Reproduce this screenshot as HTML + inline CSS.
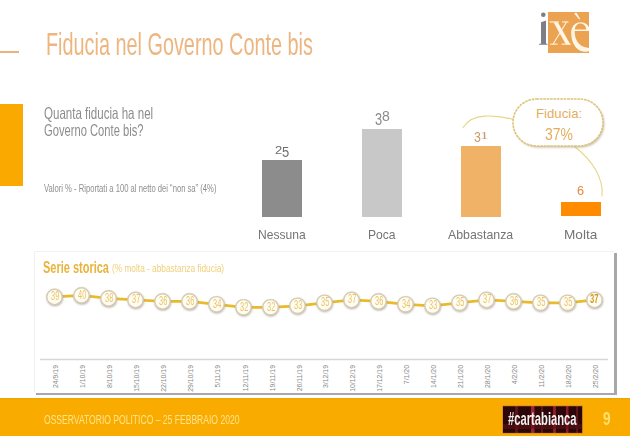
<!DOCTYPE html>
<html><head><meta charset="utf-8">
<style>
html,body{margin:0;padding:0;background:#fff;width:630px;height:436px;overflow:hidden;position:relative;font-family:"Liberation Sans",sans-serif;}
.a{position:absolute;white-space:nowrap;}
</style></head><body>
<div class="a" style="left:0px;top:50.5px;width:19px;height:2px;background:#ebb27c;"></div>
<div class="a" style="left:46.00px;top:27.71px;font-size:32px;line-height:32px;color:#edb680;font-weight:normal;transform:scale(0.62,1.0);transform-origin:0 27.09px;">Fiducia nel Governo Conte bis</div>
<div class="a" style="left:548.2px;top:12.4px;width:41px;height:41px;background:#eba352;"></div>
<svg class="a" style="left:0;top:0" width="630" height="60" viewBox="0 0 630 60">
<path fill="#7c7f87" d="M541 22.2 L546 20.4 L546 43.6 L547.6 44 L547.6 44.8 L539 44.8 L539 44 L541 43.6 Z"/>
<circle cx="543.3" cy="14.8" r="2.3" fill="#7c7f87"/>
<defs><clipPath id="lq"><rect x="548.2" y="12.4" width="41" height="41"/></clipPath></defs>
<g fill="#fff6e6" clip-path="url(#lq)">
<path d="M553.5 22.3 L557.8 22.3 L570.2 44.2 L565.8 44.2 Z"/>
<path d="M565.8 22.3 L567 22.3 L553.6 44.2 L552.4 44.2 Z"/>
<rect x="549.6" y="21.4" width="9.2" height="1.1"/>
<rect x="562.2" y="21.4" width="6.3" height="1.1"/>
<rect x="550.2" y="43.6" width="7.4" height="1.1"/>
<rect x="561.6" y="43.6" width="9.2" height="1.1"/>
<path fill-rule="evenodd" d="M571.2 33 C571.2 26.5 575 22.2 580.6 22.2 C586.2 22.2 589.6 25.8 589.8 31 L574.6 31 C574.6 40 579.2 46.2 586.2 47.6 C588.2 48 590 48 591 47.6 L591 50.5 C589 51.8 586 52.2 583 51.6 C575.5 50 571.2 42 571.2 33 Z M574.8 29.4 L586.2 29.4 C586 26.2 583.6 23.6 580.4 23.6 C577.2 23.6 575.2 26.2 574.8 29.4 Z"/>
<path d="M574.2 13.6 L576.4 12.4 L580.2 19 L579.2 19.6 Z"/>
</g>
</svg>
<div class="a" style="left:0px;top:104px;width:23px;height:82px;background:#f9a900;"></div>
<div class="a" style="left:44.00px;top:104.63px;font-size:16.5px;line-height:16.5px;color:#8d8d8d;font-weight:normal;transform:scale(0.7,1.0);transform-origin:0 13.97px;">Quanta fiducia ha nel</div>
<div class="a" style="left:44.00px;top:122.43px;font-size:16.5px;line-height:16.5px;color:#8d8d8d;font-weight:normal;transform:scale(0.678,1.0);transform-origin:0 13.97px;">Governo Conte bis?</div>
<div class="a" style="left:44.00px;top:182.77px;font-size:11.5px;line-height:11.5px;color:#8f8f8f;font-weight:normal;transform:scale(0.665,1.0);transform-origin:0 9.73px;">Valori % - Riportati a 100 al netto dei “non sa” (4%)</div>
<div class="a" style="left:262px;top:160px;width:40px;height:57px;background:#8c8c8c;"></div>
<div class="a" style="left:362px;top:129px;width:40px;height:88px;background:#c8c8c8;"></div>
<div class="a" style="left:461px;top:146px;width:40px;height:71px;background:#f0b266;"></div>
<div class="a" style="left:561px;top:202px;width:40px;height:14px;background:#ff8c00;"></div>
<div class="a" style="left:258.00px;top:229.23px;font-size:12.6px;line-height:12.6px;color:#747474;font-weight:normal;transform:scale(0.96,1.0);transform-origin:0 10.67px;">Nessuna</div>
<div class="a" style="left:367.50px;top:229.23px;font-size:12.6px;line-height:12.6px;color:#747474;font-weight:normal;transform:scale(0.96,1.0);transform-origin:0 10.67px;">Poca</div>
<div class="a" style="left:448.30px;top:229.23px;font-size:12.6px;line-height:12.6px;color:#747474;font-weight:normal;transform:scale(0.98,1.0);transform-origin:0 10.67px;">Abbastanza</div>
<div class="a" style="left:564.30px;top:229.23px;font-size:12.6px;line-height:12.6px;color:#747474;font-weight:normal;transform:scale(1.08,1.0);transform-origin:0 10.67px;">Molta</div>
<div class="a" style="left:275.02px;top:145.13px;font-size:10.714285714285715px;line-height:10.714285714285715px;color:#6e6e6e;font-weight:normal;transform:scale(1.2113475177304964,1.0);transform-origin:0 9.07px;">2</div>
<div class="a" style="left:281.72px;top:144.54px;font-size:14.714285714285731px;line-height:14.714285714285731px;color:#6e6e6e;font-weight:normal;transform:scale(0.8820491633959915,1.0);transform-origin:0 12.46px;">5</div>
<div class="a" style="left:374.53px;top:111.86px;font-size:16.000000000000004px;line-height:16.000000000000004px;color:#8a8a8a;font-weight:normal;transform:scale(0.7978723404255318,1.0);transform-origin:0 13.54px;">3</div>
<div class="a" style="left:381.57px;top:109.49px;font-size:14.428571428571422px;line-height:14.428571428571422px;color:#8a8a8a;font-weight:normal;transform:scale(0.9732462607962928,1.0);transform-origin:0 12.21px;">8</div>
<div class="a" style="left:474.24px;top:130.21px;font-size:14.285714285714286px;line-height:14.285714285714286px;color:#c89a6a;font-weight:normal;transform:scale(0.8638297872340425,1.0);transform-origin:0 12.09px;">3</div>
<div class="a" style="left:480.03px;top:130.61px;font-size:10.14705882352942px;line-height:10.14705882352942px;color:#c89a6a;font-weight:normal;font-family:'Liberation Serif',serif;transform:scale(1.7,1.0);transform-origin:0 8.59px;">1</div>
<div class="a" style="left:577.40px;top:183.60px;font-size:13px;line-height:13px;color:#e98a3a;font-weight:normal;transform:scale(0.98,1.0);transform-origin:0 11.00px;">6</div>
<svg class="a" style="left:0;top:0" width="630" height="436" viewBox="0 0 630 436">
<path d="M462.8 127.8 C467 121 474 116.5 485 116.1 C497 115.8 506 117.5 513.5 119.4" fill="none" stroke="#e6d68a" stroke-width="1.1"/>
<path d="M574 146 C592 160 604 178 602 196.5" fill="none" stroke="#e6d68a" stroke-width="1.1"/>
</svg>
<svg class="a" style="left:0;top:0" width="630" height="436" viewBox="0 0 630 436">
<defs><filter id="sh" x="-20%" y="-20%" width="140%" height="140%"><feGaussianBlur stdDeviation="1"/></filter></defs>
<rect x="514.3" y="100.6" width="90" height="47" rx="23.5" fill="#a89878" opacity="0.6" filter="url(#sh)"/>
<rect x="513" y="99" width="90" height="47" rx="23.5" fill="#fff" stroke="#dcc47a" stroke-width="1.6" stroke-dasharray="2.6 0.8"/>
</svg>
<div class="a" style="left:536.00px;top:106.73px;font-size:13.2px;line-height:13.2px;color:#e4ad5e;font-weight:normal;transform-origin:0 11.17px;">Fiducia:</div>
<div class="a" style="left:545.00px;top:125.91px;font-size:17px;line-height:17px;color:#e4ad5e;font-weight:normal;transform:scale(0.82,1.0);transform-origin:0 14.39px;">37%</div>
<div class="a" style="left:614px;top:253px;width:2.6px;height:142px;background:#a8a8a8;"></div>
<div class="a" style="left:36px;top:392.6px;width:580.6px;height:2.2px;background:#a8a8a8;"></div>
<div class="a" style="left:34px;top:251px;width:580px;height:141px;background:#fff;border-left:1px solid #f0f0f0;border-top:1px solid #f2f2f2;box-sizing:border-box"></div>
<div class="a" style="left:43.00px;top:258.62px;font-size:16.4px;line-height:16.4px;color:#e8b43c;font-weight:bold;transform:scale(0.67,1.0);transform-origin:0 13.88px;">Serie storica</div>
<div class="a" style="left:111.50px;top:264.34px;font-size:10px;line-height:10px;color:#efd07a;font-weight:normal;transform:scale(0.83,1.0);transform-origin:0 8.46px;">(% molta - abbastanza fiducia)</div>
<svg class="a" style="left:0;top:0" width="630" height="436" viewBox="0 0 630 436">
<defs><filter id="cs" x="-50%" y="-50%" width="200%" height="200%"><feGaussianBlur stdDeviation="0.8"/></filter></defs>
<polyline points="54.5,296.9 81.5,295.4 108.5,298.4 135.5,299.9 162.5,301.4 189.5,301.4 216.5,304.3 243.5,307.3 270.5,307.3 297.5,305.8 324.5,302.8 351.5,299.9 378.5,301.4 405.5,304.3 432.5,305.8 459.5,302.8 486.5,299.9 513.5,301.4 540.5,302.8 567.5,302.8 594.5,299.9" fill="none" stroke="#e9bb2c" stroke-width="2.8" stroke-linejoin="round"/>
<circle cx="54.9" cy="297.9" r="8.1" fill="#9a8f7c" opacity="0.75" filter="url(#cs)"/>
<circle cx="54.5" cy="296.9" r="7.7" fill="#fffdf2" stroke="#d6ccb6" stroke-width="1.4"/>
<circle cx="81.9" cy="296.4" r="8.1" fill="#9a8f7c" opacity="0.75" filter="url(#cs)"/>
<circle cx="81.5" cy="295.4" r="7.7" fill="#fffdf2" stroke="#d6ccb6" stroke-width="1.4"/>
<circle cx="108.9" cy="299.4" r="8.1" fill="#9a8f7c" opacity="0.75" filter="url(#cs)"/>
<circle cx="108.5" cy="298.4" r="7.7" fill="#fffdf2" stroke="#d6ccb6" stroke-width="1.4"/>
<circle cx="135.9" cy="300.9" r="8.1" fill="#9a8f7c" opacity="0.75" filter="url(#cs)"/>
<circle cx="135.5" cy="299.9" r="7.7" fill="#fffdf2" stroke="#d6ccb6" stroke-width="1.4"/>
<circle cx="162.9" cy="302.4" r="8.1" fill="#9a8f7c" opacity="0.75" filter="url(#cs)"/>
<circle cx="162.5" cy="301.4" r="7.7" fill="#fffdf2" stroke="#d6ccb6" stroke-width="1.4"/>
<circle cx="189.9" cy="302.4" r="8.1" fill="#9a8f7c" opacity="0.75" filter="url(#cs)"/>
<circle cx="189.5" cy="301.4" r="7.7" fill="#fffdf2" stroke="#d6ccb6" stroke-width="1.4"/>
<circle cx="216.9" cy="305.3" r="8.1" fill="#9a8f7c" opacity="0.75" filter="url(#cs)"/>
<circle cx="216.5" cy="304.3" r="7.7" fill="#fffdf2" stroke="#d6ccb6" stroke-width="1.4"/>
<circle cx="243.9" cy="308.3" r="8.1" fill="#9a8f7c" opacity="0.75" filter="url(#cs)"/>
<circle cx="243.5" cy="307.3" r="7.7" fill="#fffdf2" stroke="#d6ccb6" stroke-width="1.4"/>
<circle cx="270.9" cy="308.3" r="8.1" fill="#9a8f7c" opacity="0.75" filter="url(#cs)"/>
<circle cx="270.5" cy="307.3" r="7.7" fill="#fffdf2" stroke="#d6ccb6" stroke-width="1.4"/>
<circle cx="297.9" cy="306.8" r="8.1" fill="#9a8f7c" opacity="0.75" filter="url(#cs)"/>
<circle cx="297.5" cy="305.8" r="7.7" fill="#fffdf2" stroke="#d6ccb6" stroke-width="1.4"/>
<circle cx="324.9" cy="303.8" r="8.1" fill="#9a8f7c" opacity="0.75" filter="url(#cs)"/>
<circle cx="324.5" cy="302.8" r="7.7" fill="#fffdf2" stroke="#d6ccb6" stroke-width="1.4"/>
<circle cx="351.9" cy="300.9" r="8.1" fill="#9a8f7c" opacity="0.75" filter="url(#cs)"/>
<circle cx="351.5" cy="299.9" r="7.7" fill="#fffdf2" stroke="#d6ccb6" stroke-width="1.4"/>
<circle cx="378.9" cy="302.4" r="8.1" fill="#9a8f7c" opacity="0.75" filter="url(#cs)"/>
<circle cx="378.5" cy="301.4" r="7.7" fill="#fffdf2" stroke="#d6ccb6" stroke-width="1.4"/>
<circle cx="405.9" cy="305.3" r="8.1" fill="#9a8f7c" opacity="0.75" filter="url(#cs)"/>
<circle cx="405.5" cy="304.3" r="7.7" fill="#fffdf2" stroke="#d6ccb6" stroke-width="1.4"/>
<circle cx="432.9" cy="306.8" r="8.1" fill="#9a8f7c" opacity="0.75" filter="url(#cs)"/>
<circle cx="432.5" cy="305.8" r="7.7" fill="#fffdf2" stroke="#d6ccb6" stroke-width="1.4"/>
<circle cx="459.9" cy="303.8" r="8.1" fill="#9a8f7c" opacity="0.75" filter="url(#cs)"/>
<circle cx="459.5" cy="302.8" r="7.7" fill="#fffdf2" stroke="#d6ccb6" stroke-width="1.4"/>
<circle cx="486.9" cy="300.9" r="8.1" fill="#9a8f7c" opacity="0.75" filter="url(#cs)"/>
<circle cx="486.5" cy="299.9" r="7.7" fill="#fffdf2" stroke="#d6ccb6" stroke-width="1.4"/>
<circle cx="513.9" cy="302.4" r="8.1" fill="#9a8f7c" opacity="0.75" filter="url(#cs)"/>
<circle cx="513.5" cy="301.4" r="7.7" fill="#fffdf2" stroke="#d6ccb6" stroke-width="1.4"/>
<circle cx="540.9" cy="303.8" r="8.1" fill="#9a8f7c" opacity="0.75" filter="url(#cs)"/>
<circle cx="540.5" cy="302.8" r="7.7" fill="#fffdf2" stroke="#d6ccb6" stroke-width="1.4"/>
<circle cx="567.9" cy="303.8" r="8.1" fill="#9a8f7c" opacity="0.75" filter="url(#cs)"/>
<circle cx="567.5" cy="302.8" r="7.7" fill="#fffdf2" stroke="#d6ccb6" stroke-width="1.4"/>
<circle cx="594.9" cy="300.9" r="8.1" fill="#9a8f7c" opacity="0.75" filter="url(#cs)"/>
<circle cx="594.5" cy="299.9" r="7.7" fill="#fffdf2" stroke="#d6ccb6" stroke-width="1.4"/>
<line x1="40" y1="359.6" x2="608" y2="359.6" stroke="#d6d6d6" stroke-width="1.5"/>
</svg>
<div class="a" style="left:50.56px;top:290.24px;font-size:12.4px;line-height:12.4px;color:#eac46c;font-weight:normal;transform:scale(0.6,1.0);transform-origin:0 10.50px;">39</div>
<div class="a" style="left:77.56px;top:288.75px;font-size:12.4px;line-height:12.4px;color:#eac46c;font-weight:normal;transform:scale(0.6,1.0);transform-origin:0 10.50px;">40</div>
<div class="a" style="left:104.56px;top:291.73px;font-size:12.4px;line-height:12.4px;color:#eac46c;font-weight:normal;transform:scale(0.6,1.0);transform-origin:0 10.50px;">38</div>
<div class="a" style="left:131.56px;top:293.22px;font-size:12.4px;line-height:12.4px;color:#eac46c;font-weight:normal;transform:scale(0.6,1.0);transform-origin:0 10.50px;">37</div>
<div class="a" style="left:158.56px;top:294.71px;font-size:12.4px;line-height:12.4px;color:#eac46c;font-weight:normal;transform:scale(0.6,1.0);transform-origin:0 10.50px;">36</div>
<div class="a" style="left:185.56px;top:294.71px;font-size:12.4px;line-height:12.4px;color:#eac46c;font-weight:normal;transform:scale(0.6,1.0);transform-origin:0 10.50px;">36</div>
<div class="a" style="left:212.56px;top:297.69px;font-size:12.4px;line-height:12.4px;color:#eac46c;font-weight:normal;transform:scale(0.6,1.0);transform-origin:0 10.50px;">34</div>
<div class="a" style="left:239.56px;top:300.67px;font-size:12.4px;line-height:12.4px;color:#eac46c;font-weight:normal;transform:scale(0.6,1.0);transform-origin:0 10.50px;">32</div>
<div class="a" style="left:266.56px;top:300.67px;font-size:12.4px;line-height:12.4px;color:#eac46c;font-weight:normal;transform:scale(0.6,1.0);transform-origin:0 10.50px;">32</div>
<div class="a" style="left:293.56px;top:299.18px;font-size:12.4px;line-height:12.4px;color:#eac46c;font-weight:normal;transform:scale(0.6,1.0);transform-origin:0 10.50px;">33</div>
<div class="a" style="left:320.56px;top:296.20px;font-size:12.4px;line-height:12.4px;color:#eac46c;font-weight:normal;transform:scale(0.6,1.0);transform-origin:0 10.50px;">35</div>
<div class="a" style="left:347.56px;top:293.22px;font-size:12.4px;line-height:12.4px;color:#eac46c;font-weight:normal;transform:scale(0.6,1.0);transform-origin:0 10.50px;">37</div>
<div class="a" style="left:374.56px;top:294.71px;font-size:12.4px;line-height:12.4px;color:#eac46c;font-weight:normal;transform:scale(0.6,1.0);transform-origin:0 10.50px;">36</div>
<div class="a" style="left:401.56px;top:297.69px;font-size:12.4px;line-height:12.4px;color:#eac46c;font-weight:normal;transform:scale(0.6,1.0);transform-origin:0 10.50px;">34</div>
<div class="a" style="left:428.56px;top:299.18px;font-size:12.4px;line-height:12.4px;color:#eac46c;font-weight:normal;transform:scale(0.6,1.0);transform-origin:0 10.50px;">33</div>
<div class="a" style="left:455.56px;top:296.20px;font-size:12.4px;line-height:12.4px;color:#eac46c;font-weight:normal;transform:scale(0.6,1.0);transform-origin:0 10.50px;">35</div>
<div class="a" style="left:482.56px;top:293.22px;font-size:12.4px;line-height:12.4px;color:#eac46c;font-weight:normal;transform:scale(0.6,1.0);transform-origin:0 10.50px;">37</div>
<div class="a" style="left:509.56px;top:294.71px;font-size:12.4px;line-height:12.4px;color:#eac46c;font-weight:normal;transform:scale(0.6,1.0);transform-origin:0 10.50px;">36</div>
<div class="a" style="left:536.56px;top:296.20px;font-size:12.4px;line-height:12.4px;color:#eac46c;font-weight:normal;transform:scale(0.6,1.0);transform-origin:0 10.50px;">35</div>
<div class="a" style="left:563.56px;top:296.20px;font-size:12.4px;line-height:12.4px;color:#eac46c;font-weight:normal;transform:scale(0.6,1.0);transform-origin:0 10.50px;">35</div>
<div class="a" style="left:590.43px;top:293.22px;font-size:12.4px;line-height:12.4px;color:#d29a28;font-weight:bold;transform:scale(0.62,1.0);transform-origin:0 10.50px;">37</div>
<div class="a" style="left:52.2px;top:365.2px;width:0;height:0"><div style="position:absolute;right:0;top:0;transform:rotate(-90deg) scaleX(0.86);transform-origin:100% 0;font-size:8px;line-height:8px;color:#888888;">24/9/19</div></div>
<div class="a" style="left:79.2px;top:365.2px;width:0;height:0"><div style="position:absolute;right:0;top:0;transform:rotate(-90deg) scaleX(0.86);transform-origin:100% 0;font-size:8px;line-height:8px;color:#888888;">1/10/19</div></div>
<div class="a" style="left:106.2px;top:365.2px;width:0;height:0"><div style="position:absolute;right:0;top:0;transform:rotate(-90deg) scaleX(0.86);transform-origin:100% 0;font-size:8px;line-height:8px;color:#888888;">8/10/19</div></div>
<div class="a" style="left:133.2px;top:365.2px;width:0;height:0"><div style="position:absolute;right:0;top:0;transform:rotate(-90deg) scaleX(0.86);transform-origin:100% 0;font-size:8px;line-height:8px;color:#888888;">15/10/19</div></div>
<div class="a" style="left:160.2px;top:365.2px;width:0;height:0"><div style="position:absolute;right:0;top:0;transform:rotate(-90deg) scaleX(0.86);transform-origin:100% 0;font-size:8px;line-height:8px;color:#888888;">22/10/19</div></div>
<div class="a" style="left:187.2px;top:365.2px;width:0;height:0"><div style="position:absolute;right:0;top:0;transform:rotate(-90deg) scaleX(0.86);transform-origin:100% 0;font-size:8px;line-height:8px;color:#888888;">29/10/19</div></div>
<div class="a" style="left:214.2px;top:365.2px;width:0;height:0"><div style="position:absolute;right:0;top:0;transform:rotate(-90deg) scaleX(0.86);transform-origin:100% 0;font-size:8px;line-height:8px;color:#888888;">5/11/19</div></div>
<div class="a" style="left:241.2px;top:365.2px;width:0;height:0"><div style="position:absolute;right:0;top:0;transform:rotate(-90deg) scaleX(0.86);transform-origin:100% 0;font-size:8px;line-height:8px;color:#888888;">12/11/19</div></div>
<div class="a" style="left:268.2px;top:365.2px;width:0;height:0"><div style="position:absolute;right:0;top:0;transform:rotate(-90deg) scaleX(0.86);transform-origin:100% 0;font-size:8px;line-height:8px;color:#888888;">19/11/19</div></div>
<div class="a" style="left:295.2px;top:365.2px;width:0;height:0"><div style="position:absolute;right:0;top:0;transform:rotate(-90deg) scaleX(0.86);transform-origin:100% 0;font-size:8px;line-height:8px;color:#888888;">26/11/19</div></div>
<div class="a" style="left:322.2px;top:365.2px;width:0;height:0"><div style="position:absolute;right:0;top:0;transform:rotate(-90deg) scaleX(0.86);transform-origin:100% 0;font-size:8px;line-height:8px;color:#888888;">3/12/19</div></div>
<div class="a" style="left:349.2px;top:365.2px;width:0;height:0"><div style="position:absolute;right:0;top:0;transform:rotate(-90deg) scaleX(0.86);transform-origin:100% 0;font-size:8px;line-height:8px;color:#888888;">10/12/19</div></div>
<div class="a" style="left:376.2px;top:365.2px;width:0;height:0"><div style="position:absolute;right:0;top:0;transform:rotate(-90deg) scaleX(0.86);transform-origin:100% 0;font-size:8px;line-height:8px;color:#888888;">17/12/19</div></div>
<div class="a" style="left:403.2px;top:365.2px;width:0;height:0"><div style="position:absolute;right:0;top:0;transform:rotate(-90deg) scaleX(0.86);transform-origin:100% 0;font-size:8px;line-height:8px;color:#888888;">7/1/20</div></div>
<div class="a" style="left:430.2px;top:365.2px;width:0;height:0"><div style="position:absolute;right:0;top:0;transform:rotate(-90deg) scaleX(0.86);transform-origin:100% 0;font-size:8px;line-height:8px;color:#888888;">14/1/20</div></div>
<div class="a" style="left:457.2px;top:365.2px;width:0;height:0"><div style="position:absolute;right:0;top:0;transform:rotate(-90deg) scaleX(0.86);transform-origin:100% 0;font-size:8px;line-height:8px;color:#888888;">21/1/20</div></div>
<div class="a" style="left:484.2px;top:365.2px;width:0;height:0"><div style="position:absolute;right:0;top:0;transform:rotate(-90deg) scaleX(0.86);transform-origin:100% 0;font-size:8px;line-height:8px;color:#888888;">28/1/20</div></div>
<div class="a" style="left:511.2px;top:365.2px;width:0;height:0"><div style="position:absolute;right:0;top:0;transform:rotate(-90deg) scaleX(0.86);transform-origin:100% 0;font-size:8px;line-height:8px;color:#888888;">4/2/20</div></div>
<div class="a" style="left:538.2px;top:365.2px;width:0;height:0"><div style="position:absolute;right:0;top:0;transform:rotate(-90deg) scaleX(0.86);transform-origin:100% 0;font-size:8px;line-height:8px;color:#888888;">11/2/20</div></div>
<div class="a" style="left:565.2px;top:365.2px;width:0;height:0"><div style="position:absolute;right:0;top:0;transform:rotate(-90deg) scaleX(0.86);transform-origin:100% 0;font-size:8px;line-height:8px;color:#888888;">18/2/20</div></div>
<div class="a" style="left:592.2px;top:365.2px;width:0;height:0"><div style="position:absolute;right:0;top:0;transform:rotate(-90deg) scaleX(0.86);transform-origin:100% 0;font-size:8px;line-height:8px;color:#888888;">25/2/20</div></div>
<div class="a" style="left:0px;top:397.8px;width:630px;height:38.2px;background:#f9ab00;"></div>
<div class="a" style="left:0px;top:397.8px;width:630px;height:2px;background:linear-gradient(#eca400,#f9ab00);"></div>
<div class="a" style="left:44.40px;top:413.19px;font-size:13.6px;line-height:13.6px;color:#ffe38a;font-weight:normal;transform:scale(0.63,1.0);transform-origin:0 11.51px;">OSSERVATORIO POLITICO – 25 FEBBRAIO 2020</div>
<svg class="a" style="left:0;top:0" width="630" height="436" viewBox="0 0 630 436">
<defs><filter id="cb" x="-10%" y="-10%" width="120%" height="120%"><feGaussianBlur stdDeviation="0.7"/></filter><clipPath id="cbc"><rect x="502.4" y="405.8" width="80.3" height="27.5"/></clipPath></defs>
<rect x="502.4" y="405.8" width="80.3" height="27.5" fill="#2c0609"/>
<g clip-path="url(#cbc)"><g filter="url(#cb)">
<rect x="515" y="405.8" width="3" height="27.5" fill="#5a1218"/>
<rect x="531" y="405.8" width="3.5" height="27.5" fill="#9a2030"/>
<rect x="541" y="405.8" width="2" height="27.5" fill="#5a1218"/>
<rect x="553" y="405.8" width="3" height="27.5" fill="#8a1c28"/>
<rect x="566" y="405.8" width="2.5" height="27.5" fill="#8a1c28"/>
<rect x="576" y="405.8" width="2" height="27.5" fill="#5a1218"/>
<rect x="502.4" y="424" width="80.3" height="5" fill="#5a1018" opacity="0.6"/></g></g>
<rect x="502.4" y="405.8" width="80.3" height="27.5" fill="none" stroke="#f0a030" stroke-width="0.8"/>
</svg>
<div class="a" style="left:508.20px;top:410.32px;font-size:18.4px;line-height:18.4px;color:#f4f0f0;font-weight:bold;transform:scale(0.61,1.0);transform-origin:0 15.58px;">#cartabianca</div>
<div class="a" style="left:603.20px;top:410.14px;font-size:18.5px;line-height:18.5px;color:#ffe070;font-weight:bold;transform:scale(0.74,1.0);transform-origin:0 15.66px;">9</div>
</body></html>
